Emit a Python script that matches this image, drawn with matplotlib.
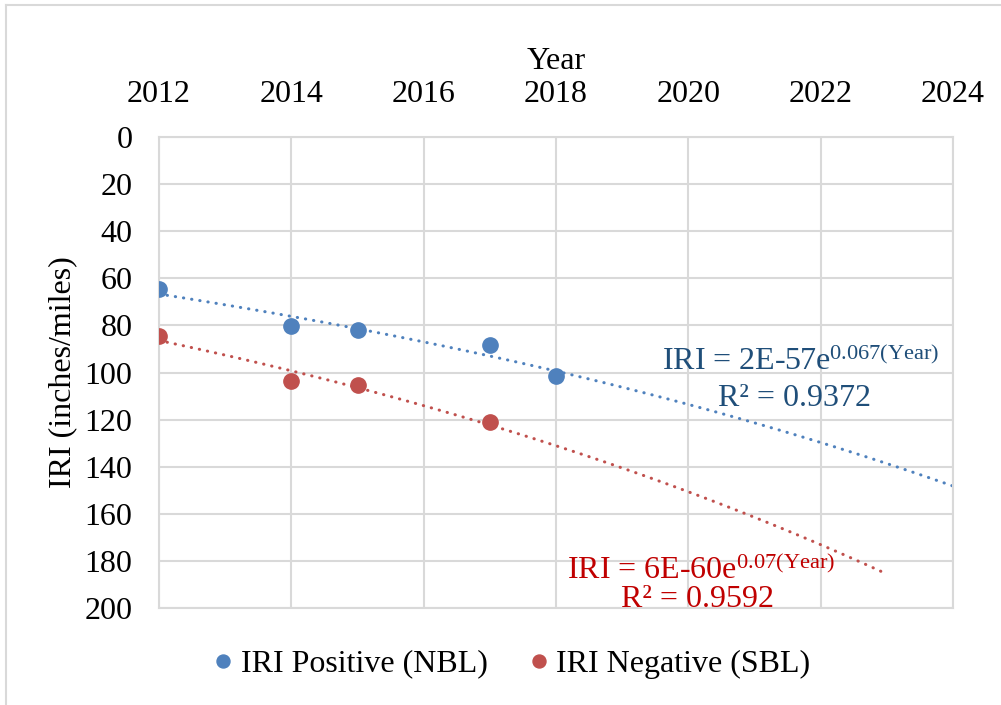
import matplotlib
matplotlib.use("Agg")
import matplotlib.pyplot as plt
from matplotlib.lines import Line2D
import numpy as np

plt.rcParams['font.family'] = ['Liberation Serif', 'DejaVu Serif']
plt.rcParams['mathtext.fontset'] = 'custom'
plt.rcParams['mathtext.rm'] = 'Liberation Serif'
plt.rcParams['mathtext.it'] = 'Liberation Serif:italic'

# data
years_pos = [2012, 2014, 2015, 2017, 2018]
iri_pos = [64.7, 80.4, 81.8, 88.4, 101.6]
years_neg = [2012, 2014, 2015, 2017]
iri_neg = [84.6, 103.7, 105.1, 121.1]

blue = '#4F81BD'
red = '#C0504D'
grid = '#D9D9D9'

fig = plt.figure(figsize=(10.01, 7.05), dpi=100)
ax = fig.add_axes([159 / 1001, 1 - 608 / 705, (953 - 159) / 1001, (608 - 137) / 705])

# exponential trendlines (fit of log y on year)
def expfit(x, y, x_end):
    b, ln_a = np.polyfit(x, np.log(y), 1)
    xs = np.linspace(x[0], x_end, 100)
    return xs, np.exp(ln_a + b * xs)

xs, ys = expfit(np.array(years_pos, float), np.array(iri_pos), 2024)
ax.plot(xs, ys, color=blue, lw=2.2, linestyle=(0, (0.1, 2.6)),
        dash_capstyle='round', zorder=2)
xs, ys = expfit(np.array(years_neg, float), np.array(iri_neg), 2023)
ax.plot(xs, ys, color=red, lw=2.2, linestyle=(0, (0.1, 2.6)),
        dash_capstyle='round', zorder=2)

ax.plot(years_pos, iri_pos, 'o', color=blue, ms=11, label='IRI Positive (NBL)', zorder=3)
ax.plot(years_neg, iri_neg, 'o', color=red, ms=11, label='IRI Negative (SBL)', zorder=3)

ax.set_xlim(2012, 2024)
ax.set_ylim(200, 0)
ax.set_xticks(range(2012, 2025, 2))
ax.set_yticks(range(0, 201, 20))
ax.xaxis.tick_top()
ax.xaxis.set_label_position('top')
ax.tick_params(length=0, labelsize=23, colors='black')
ax.tick_params(axis='x', pad=20)
ax.tick_params(axis='y', pad=19)
ax.grid(True, color=grid, lw=1.5)
ax.set_axisbelow(True)
for s in ax.spines.values():
    s.set_color(grid)
    s.set_linewidth(1.5)

ax.set_xlabel('Year', fontsize=23, labelpad=8)
ax.set_ylabel('IRI (inches/miles)', fontsize=23, labelpad=5)

ax.text(2019.6, 95.5, r'IRI = 2E-57e$^{\mathrm{0.067(Year)}}$', fontsize=23,
        color='#1F4E79', va='center', ha='left')
ax.text(2020.45, 111, 'R² = 0.9372', fontsize=23, color='#1F4E79',
        va='center', ha='left')
ax.text(2018.17, 184, r'IRI = 6E-60e$^{\mathrm{0.07(Year)}}$', fontsize=23,
        color='#C00000', va='center', ha='left')
ax.text(2018.98, 196.5, 'R² = 0.9592', fontsize=23, color='#C00000',
        va='center', ha='left')

fig.legend(loc='center', bbox_to_anchor=(509 / 1001, 1 - 664 / 705), ncol=2,
           frameon=False, fontsize=23, handletextpad=0.05, columnspacing=1.1,
           handlelength=1.0, markerscale=0.85)

# outer chart border (top and left edges visible)
fig.add_artist(Line2D([6 / 1001, 6 / 1001], [0, 1 - 5 / 705], color=grid, lw=1.5))
fig.add_artist(Line2D([6 / 1001, 1], [1 - 5 / 705, 1 - 5 / 705], color=grid, lw=1.5))

fig.savefig('out.png', dpi=100)
